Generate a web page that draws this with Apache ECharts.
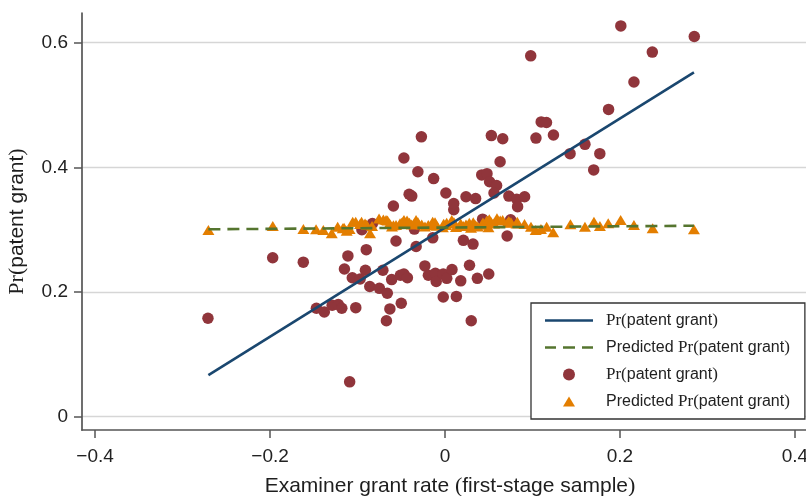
<!DOCTYPE html>
<html>
<head>
<meta charset="utf-8">
<script src="https://cdn.jsdelivr.net/npm/echarts@6/dist/echarts.min.js"></script>
<style>
  html, body { margin: 0; padding: 0; background: #fff; }
  #chart { width: 806px; height: 496px; }
</style>
</head>
<body>
<div id="chart"></div>
<script>
// examiner bins: observed grant rate (dots)
var actualX = [-0.271, -0.197, -0.162, -0.109, -0.147, -0.138, -0.129, -0.122, -0.118, -0.102,
  -0.111, -0.090, -0.115, -0.106, -0.097, -0.091, -0.086, -0.075, -0.071, -0.066,
  -0.061, -0.063, -0.067, -0.050, -0.051, -0.047, -0.043, -0.056, -0.033, -0.023,
  -0.019, -0.011, -0.010, -0.002, 0.002, 0.008, -0.002, 0.013, 0.018, 0.028,
  0.037, 0.050, 0.030, 0.021, 0.032, -0.014, 0.071, -0.027, -0.047, -0.031,
  -0.013, 0.001, -0.041, -0.038, -0.059, 0.010, -0.083, -0.095, -0.035, 0.098,
  0.110, 0.116, 0.053, 0.066, 0.104, 0.124, 0.143, 0.160, 0.177, 0.170,
  0.063, 0.042, 0.048, 0.051, 0.059, 0.056, 0.024, 0.035, 0.073, 0.082,
  0.091, 0.083, 0.201, 0.285, 0.237, 0.216, 0.187, 0.043, 0.075, 0.010];
var actualY = [0.158, 0.255, 0.248, 0.056, 0.174, 0.168, 0.179, 0.180, 0.174, 0.175,
  0.258, 0.268, 0.237, 0.223, 0.221, 0.235, 0.209, 0.206, 0.235, 0.198,
  0.220, 0.173, 0.154, 0.182, 0.227, 0.229, 0.223, 0.282, 0.273, 0.242,
  0.227, 0.230, 0.217, 0.229, 0.222, 0.236, 0.192, 0.193, 0.218, 0.243,
  0.222, 0.229, 0.154, 0.283, 0.277, 0.287, 0.290, 0.449, 0.415, 0.393,
  0.382, 0.359, 0.357, 0.354, 0.338, 0.332, 0.310, 0.300, 0.301, 0.579,
  0.473, 0.472, 0.451, 0.446, 0.447, 0.452, 0.422, 0.437, 0.422, 0.396,
  0.409, 0.388, 0.390, 0.377, 0.371, 0.359, 0.353, 0.350, 0.354, 0.349,
  0.353, 0.337, 0.627, 0.610, 0.585, 0.537, 0.493, 0.317, 0.316, 0.342];

// predicted grant rate from first stage (triangles)
var predX = [-0.2705, -0.1969, -0.1619, -0.1474, -0.1391, -0.1295, -0.1227, -0.1169, -0.1154, -0.1124,
  -0.1091, -0.1055, -0.1021, -0.0971, -0.0954, -0.0914, -0.0895, -0.0857, -0.0834, -0.0754,
  -0.0705, -0.0674, -0.0657, -0.0634, -0.0606, -0.0589, -0.0560, -0.0514, -0.0495, -0.0474,
  -0.0469, -0.0434, -0.0406, -0.0381, -0.0354, -0.0331, -0.0309, -0.0266, -0.0229, -0.0191,
  -0.0141, -0.0126, -0.0114, -0.0095, -0.0025, -0.0015, 0.0011, 0.0019, 0.0077, 0.0097,
  0.0103, 0.0126, 0.0179, 0.0209, 0.0240, 0.0278, 0.0297, 0.0323, 0.0351, 0.0374,
  0.0423, 0.0434, 0.0477, 0.0497, 0.0506, 0.0529, 0.0560, 0.0594, 0.0631, 0.0659,
  0.0714, 0.0729, 0.0754, 0.0817, 0.0826, 0.0909, 0.0983, 0.1037, 0.1097, 0.1162,
  0.1237, 0.1434, 0.1600, 0.1703, 0.1771, 0.1866, 0.2008, 0.2160, 0.2374, 0.2846];
var predY = [0.2995, 0.3060, 0.3011, 0.3007, 0.2995, 0.2942, 0.3048, 0.3023, 0.3030, 0.2984,
  0.3010, 0.3128, 0.3128, 0.3090, 0.3128, 0.3100, 0.3080, 0.2942, 0.3060, 0.3182,
  0.3165, 0.3156, 0.3150, 0.3100, 0.3050, 0.3070, 0.3075, 0.3102, 0.3110, 0.3140,
  0.3156, 0.3150, 0.3110, 0.3085, 0.3095, 0.3156, 0.3120, 0.3085, 0.3050, 0.3075,
  0.3128, 0.3100, 0.3120, 0.3065, 0.3040, 0.3095, 0.3075, 0.3110, 0.3156, 0.3100,
  0.3120, 0.3045, 0.3100, 0.3060, 0.3085, 0.3110, 0.3030, 0.3120, 0.3070, 0.3050,
  0.3080, 0.3115, 0.3150, 0.3040, 0.3170, 0.3120, 0.3100, 0.3183, 0.3150, 0.3156,
  0.3110, 0.3140, 0.3120, 0.3100, 0.3129, 0.3090, 0.3048, 0.2995, 0.3010, 0.3048,
  0.2958, 0.3087, 0.3048, 0.3129, 0.3060, 0.3103, 0.3156, 0.3076, 0.3023, 0.3007];

// fitted lines (end points)
var fitX = [-0.2705, 0.2846];
var fitY = [0.0669, 0.5525];
var predLineX = [-0.2705, 0.2846];
var predLineY = [0.3007, 0.3064];

var xTicks = [-0.4, -0.2, 0, 0.2, 0.4];
var yTicks = [0, 0.2, 0.4, 0.6];

var sans = '"Liberation Sans", Arial, Helvetica, sans-serif';
var serif = '"Liberation Serif", "Times New Roman", serif';

function pairs(xs, ys) {
  return xs.map(function (x, i) { return [x, ys[i]]; });
}
function fmt(v) {
  if (Math.abs(v) < 1e-9) return '0';
  return (v < 0 ? '\u2212' : '') + Math.abs(v).toFixed(1);
}

var legendNames = {
  fit: '{s|Pr(}patent grant{s|)}',
  predFit: 'Predicted {s|Pr(}patent grant{s|)}',
  actual: '{s|Pr(}patent grant{s|)}',
  pred: 'Predicted {s|Pr(}patent grant{s|)}'
};

// legend icons (the leading M..L pairs pin the box to 48x12 / 12x12)
var solidIcon = 'path://M0,0 L0,0 M48,12 L48,12 M0,4.7 L48,4.7 L48,7.3 L0,7.3 Z';
var dashIcon = 'path://M0,0 L0,0 M48,12 L48,12 M0,4.7 L11,4.7 L11,7.3 L0,7.3 Z ' +
  'M18,4.7 L30,4.7 L30,7.3 L18,7.3 Z M37,4.7 L48,4.7 L48,7.3 L37,7.3 Z';
var triIcon = 'path://M0,0 L0,0 M12,12 L12,12 M0,11 L6,1 L12,11 Z';

var chart = echarts.init(document.getElementById('chart'));

var option = {
  animation: false,
  backgroundColor: '#fff',
  grid: { left: 82, top: 13, right: -2, bottom: 66, outerBoundsMode: 'none', containLabel: false },
  xAxis: {
    type: 'value',
    min: -0.415,
    max: 0.415,
    name: 'Examiner grant rate {p|(}first-stage sample{p|)}',
    nameLocation: 'middle',
    nameGap: 45,
    nameTextStyle: {
      fontFamily: sans, fontSize: 21, color: '#1e1e1e', padding: [0, 0, 0, 10],
      rich: { p: { fontFamily: serif, fontSize: 22, color: '#1e1e1e' } }
    },
    axisLine: { onZero: false, lineStyle: { color: '#555', width: 1.7 } },
    axisTick: { customValues: xTicks, length: 8, lineStyle: { color: '#555', width: 1.5 } },
    axisLabel: {
      customValues: xTicks, formatter: fmt, margin: 17,
      fontFamily: sans, fontSize: 19, color: '#222'
    },
    splitLine: { show: false }
  },
  yAxis: {
    type: 'value',
    min: -0.0213,
    max: 0.6477,
    name: '{s|Pr(}patent grant{s|)}',
    nameLocation: 'middle',
    nameRotate: 90,
    nameGap: 54,
    nameTextStyle: {
      fontFamily: sans, fontSize: 21, color: '#1e1e1e',
      rich: { s: { fontFamily: serif, fontSize: 22, color: '#1e1e1e' } }
    },
    axisLine: { onZero: false, lineStyle: { color: '#555', width: 1.7 } },
    axisTick: { customValues: yTicks, length: 8, lineStyle: { color: '#555', width: 1.5 } },
    axisLabel: {
      customValues: yTicks, formatter: fmt, margin: 14,
      fontFamily: sans, fontSize: 19, color: '#222'
    },
    splitLine: { show: true, lineStyle: { color: '#d6d6d6', width: 1.3 } }
  },
  legend: {
    orient: 'vertical',
    left: 531,
    top: 303,
    padding: [9, 15, 9, 14],
    itemWidth: 48,
    itemHeight: 12,
    itemGap: 10,
    borderColor: '#333',
    borderWidth: 1.3,
    backgroundColor: '#fff',
    data: [
      { name: 'fit', icon: solidIcon },
      { name: 'predFit', icon: dashIcon },
      { name: 'actual', icon: 'circle' },
      { name: 'pred', icon: triIcon }
    ],
    formatter: function (name) { return legendNames[name]; },
    textStyle: {
      fontFamily: sans, fontSize: 16, color: '#222', lineHeight: 16,
      padding: [0, 0, 0, 8],
      rich: { s: { fontFamily: serif, fontSize: 17, color: '#222', lineHeight: 16 } }
    }
  },
  series: [
    {
      name: 'fit',
      type: 'line',
      data: pairs(fitX, fitY),
      symbol: 'none',
      lineStyle: { color: '#1a476f', width: 2.6 },
      itemStyle: { color: '#1a476f' }
    },
    {
      name: 'predFit',
      type: 'line',
      data: pairs(predLineX, predLineY),
      symbol: 'none',
      lineStyle: { color: '#55752f', width: 2.6, type: [12, 7] },
      itemStyle: { color: '#55752f' }
    },
    {
      name: 'actual',
      type: 'scatter',
      data: pairs(actualX, actualY),
      symbol: 'circle',
      symbolSize: 11.5,
      itemStyle: { color: '#90353b', opacity: 1 }
    },
    {
      name: 'pred',
      type: 'scatter',
      data: pairs(predX, predY),
      symbol: 'triangle',
      symbolSize: [12, 10],
      itemStyle: { color: '#e37e00', opacity: 1 }
    }
  ]
};

chart.setOption(option);
</script>
</body>
</html>
